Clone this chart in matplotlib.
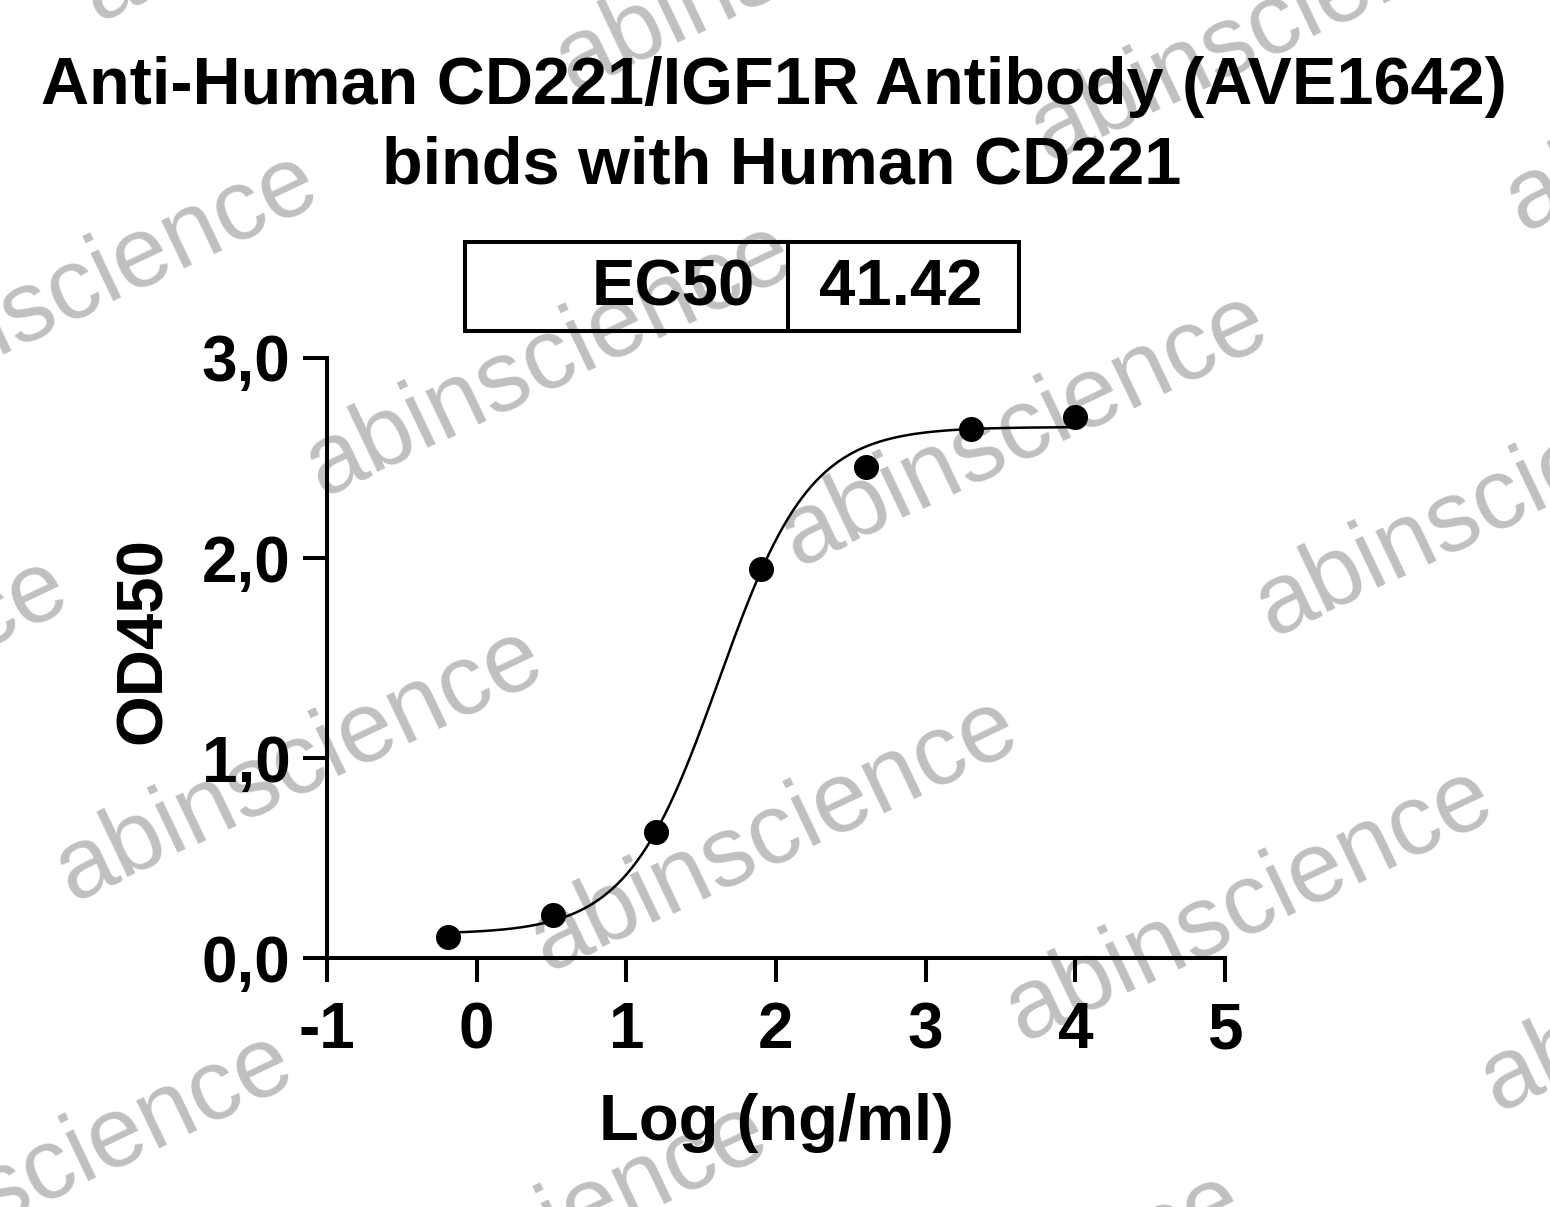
import numpy as np
import matplotlib
matplotlib.use('Agg')
import matplotlib.pyplot as plt
from matplotlib.patches import Rectangle

# data
log_conc = [-0.19, 0.51, 1.2, 1.9, 2.6, 3.3, 4.0]
od450 = [0.105, 0.215, 0.63, 1.945, 2.455, 2.645, 2.705]

# 4PL fit parameters (bottom, top, logEC50, hill)
fit_bottom = 0.12
fit_top = 2.655
ec50 = 41.42
fit_hill = 1.42

title_lines = ['Anti-Human CD221/IGF1R Antibody (AVE1642)', 'binds with Human CD221']
x_ticks = [-1, 0, 1, 2, 3, 4, 5]
x_ticklabels = ['-1', '0', '1', '2', '3', '4', '5']
y_ticks = [0, 1, 2, 3]
y_ticklabels = ['0,0', '1,0', '2,0', '3,0']
table_label = 'EC50'
watermark = 'abinscience'

W, H = 1550, 1207
plt.rcParams['font.family'] = ['Liberation Sans', 'DejaVu Sans']

def fx(px):
    return px / W

def fy(py):
    return 1 - py / H

fig = plt.figure(figsize=(W / 100, H / 100), dpi=100)

# watermark grid, behind everything
wm_origin = np.array([322, 497])
step_a = np.array([475, 70])
step_b = np.array([-250, 405])
for i in range(-2, 5):
    for j in range(-2, 4):
        px, py = wm_origin + i * step_a + j * step_b
        if -600 < px < W + 50 and -50 < py < H + 300:
            fig.text(fx(px), fy(py), watermark, fontsize=72, color='#c0c0c0',
                     rotation=25.5, rotation_mode='anchor', ha='left', va='baseline',
                     zorder=-1)

ax = fig.add_axes([fx(327), fy(958), (1225 - 327) / W, (958 - 358) / H])
ax.patch.set_visible(False)

# fitted curve
xs = np.linspace(log_conc[0], log_conc[-1], 400)
ys = fit_bottom + (fit_top - fit_bottom) / (1 + 10 ** ((np.log10(ec50) - xs) * fit_hill))
ax.plot(xs, ys, color='black', lw=1.8, zorder=3)
ax.plot(log_conc, od450, 'o', color='black', markersize=17, zorder=4, clip_on=False)

ax.set_xlim(-1, 5)
ax.set_ylim(0, 3)
ax.set_xticks(x_ticks)
ax.set_xticklabels(x_ticklabels)
ax.set_yticks(y_ticks)
ax.set_yticklabels(y_ticklabels)
for s in ['top', 'right']:
    ax.spines[s].set_visible(False)
for s in ['left', 'bottom']:
    ax.spines[s].set_linewidth(2.9)
ax.tick_params(axis='both', direction='out', length=17.3, width=2.9, labelsize=46)
ax.tick_params(axis='x', pad=14)
ax.tick_params(axis='y', pad=9)
for lab in ax.get_xticklabels() + ax.get_yticklabels():
    lab.set_fontweight('bold')

ax.set_xlabel('Log (ng/ml)', fontsize=47, fontweight='bold')
ax.xaxis.set_label_coords(0.5, (958 - 1093) / 600)
ax.set_ylabel('OD450', fontsize=47, fontweight='bold')
ax.yaxis.set_label_coords((144 - 327) / 898, (958 - 641) / 600)
ax.yaxis.label.set_va('center')

# title
fig.text(fx(774), fy(104), title_lines[0], fontsize=48, fontweight='bold',
         ha='center', va='baseline')
fig.text(fx(782), fy(183), title_lines[1], fontsize=48, fontweight='bold',
         ha='center', va='baseline')

# EC50 box
box_l, box_r, box_t, box_b, box_mid = 465, 1019, 242, 331, 788
fig.add_artist(Rectangle((fx(box_l), fy(box_b)), (box_r - box_l) / W, (box_b - box_t) / H,
                         transform=fig.transFigure, fill=False, lw=2.9, ec='black', zorder=2))
fig.add_artist(plt.Line2D([fx(box_mid), fx(box_mid)], [fy(box_t), fy(box_b)],
                          transform=fig.transFigure, color='black', lw=2.9, zorder=2))
fig.text(fx(755), fy(305), table_label, fontsize=47, fontweight='bold',
         ha='right', va='baseline')
fig.text(fx(901), fy(305), f'{ec50:.2f}', fontsize=47, fontweight='bold',
         ha='center', va='baseline')

fig.savefig('out.png', dpi=100)
